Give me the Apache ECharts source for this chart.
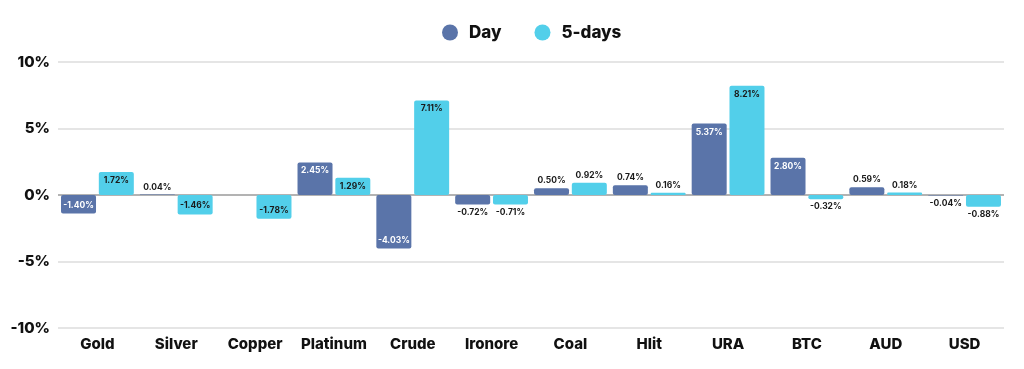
<!DOCTYPE html>
<html>
<head>
<meta charset="utf-8">
<script src="https://cdn.jsdelivr.net/npm/echarts@6/dist/echarts.min.js"></script>
<style>html,body{margin:0;padding:0;background:#fff}#c{width:1024px;height:369px}</style>
</head>
<body>
<div id="c"></div>
<script>
const categories = ['Gold','Silver','Copper','Platinum','Crude','Ironore','Coal','Hlit','URA','BTC','AUD','USD'];
const dayValues = [-1.40, 0.04, null, 2.45, -4.03, -0.72, 0.50, 0.74, 5.37, 2.80, 0.59, -0.04];
const fiveDayValues = [1.72, -1.46, -1.78, 1.29, 7.11, -0.71, 0.92, 0.16, 8.21, -0.32, 0.18, -0.88];
const yTicks = [-10, -5, 0, 5, 10];

const FONT = 'Inter, "Noto Sans", sans-serif';
const DAY_COLOR = '#5a74a9';
const FIVE_COLOR = '#52cfea';

function buildData(vals, insideColor) {
  return vals.map(v => {
    if (v === null) return null;
    const big = Math.abs(v) >= 1.2;
    let position, color, distance;
    if (big) {
      position = v >= 0 ? 'insideTop' : 'insideBottom';
      color = insideColor; distance = 4;
    } else {
      position = v >= 0 ? 'top' : 'bottom';
      color = '#1a1a1a'; distance = 3;
    }
    return {
      value: v,
      itemStyle: { borderRadius: 2 },
      label: { show: true, position, color, distance,
        formatter: p => p.value.toFixed(2) + '%',
        fontSize: 8.5, fontWeight: 'bold', fontFamily: FONT }
    };
  });
}

const chart = echarts.init(document.getElementById('c'), null, {renderer: 'canvas'});
chart.setOption({
  animation: false,
  backgroundColor: '#fff',
  legend: {
    top: 19, left: 437, itemGap: 33, icon: 'circle', itemWidth: 16, itemHeight: 16,
    textStyle: { fontFamily: FONT, fontWeight: 800, fontSize: 17, color: '#111', padding: [0, 0, 0, 6] },
    data: ['Day', '5-days']
  },
  grid: { left: 58, right: 20, top: 62, bottom: 41, containLabel: false },
  xAxis: {
    type: 'category', data: categories,
    axisLine: { show: false }, axisTick: { show: false },
    axisLabel: { fontFamily: FONT, fontWeight: 800, fontSize: 15, color: '#111', margin: 9, interval: 0 }
  },
  yAxis: {
    type: 'value', min: yTicks[0], max: yTicks[yTicks.length - 1], interval: 5,
    axisLine: { show: false }, axisTick: { show: false },
    axisLabel: { fontFamily: FONT, fontWeight: 800, fontSize: 15, color: '#111', margin: 8,
      formatter: v => v + '%' },
    splitLine: { lineStyle: { width: 1.5, color: ['#dcdcdc', '#dcdcdc', '#9a9a9a', '#dcdcdc', '#dcdcdc'] } }
  },
  series: [
    { name: 'Day', type: 'bar', barWidth: 35, barGap: '8%', color: DAY_COLOR,
      data: buildData(dayValues, '#ffffff') },
    { name: '5-days', type: 'bar', barWidth: 35, color: FIVE_COLOR,
      data: buildData(fiveDayValues, '#1a1a1a') }
  ]
});
</script>
</body>
</html>
